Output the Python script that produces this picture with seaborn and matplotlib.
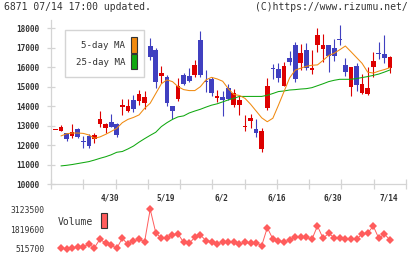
import numpy as np
import pandas as pd
import matplotlib
matplotlib.use("Agg")
import matplotlib.pyplot as plt
from matplotlib.patches import Rectangle
import seaborn as sns

# DATA (index 0 = first candle on the left)
opens = [12780, 12744, 12607, 12487, 12813, 12210, 12470, 12299, 13086, 12898,
         13172, 13069, 13977, 13754, 14319, 14285, 14182, 17093, 16887, 15569,
         15483, 14011, 14371, 15603, 15552, 15603, 17401, 15290, 15381, 14440,
         14456, 14918, 14062, 14062, 12930, 13258, 12829, 11803, 13926, 15930,
         15911, 15055, 16476, 17144, 16202, 16887, 15860, 17144, 16939, 17144,
         16990, 17420, 16117, 15004, 16065, 14696, 14627, 16031, 16720, 16682,
         15980]
highs = [12790, 13035, 12607, 13086, 12898, 12470, 12573, 12607, 13771, 13121,
         13583, 13121, 14371, 14371, 14576, 14833, 14781, 17486, 16973, 16065,
         15603, 14011, 15432, 15690, 15946, 16374, 17863, 15860, 15483, 14833,
         14781, 15141, 14884, 14525, 13549, 13600, 13326, 12864, 15432, 16168,
         16237, 16288, 16836, 17281, 17195, 17230, 16887, 18000, 17710, 17144,
         17452, 18170, 16493, 15997, 16202, 15655, 16031, 16767, 17281, 17658,
         16579]
lows = [12780, 12744, 12230, 12367, 12350, 11837, 11837, 12094, 12915, 12607,
        12950, 12436, 13549, 13720, 13720, 14062, 13840, 16374, 14918, 15175,
        14011, 13326, 14285, 15090, 15261, 15483, 15518, 14747, 14525, 14234,
        13498, 14319, 13943, 13549, 12727, 12864, 12402, 11666, 13806, 15398,
        15261, 15055, 16117, 15261, 15860, 15860, 15655, 16802, 16288, 15774,
        16339, 17144, 15552, 14542, 14799, 14627, 14576, 15483, 16408, 16202,
        15723]
closes = [12790, 12932, 12333, 12659, 12436, 12150, 11957, 12522, 13343, 13069,
          12950, 12522, 14062, 14011, 13840, 14627, 14456, 16545, 15261, 15723,
          14182, 13771, 15038, 15141, 15295, 16117, 15603, 15240, 14696, 14490,
          14319, 14371, 14696, 14319, 12970, 13412, 12607, 12727, 15038, 15890,
          15466, 16065, 16288, 15398, 16733, 15980, 15980, 17658, 17144, 16596,
          16596, 17380, 15774, 15997, 15090, 15124, 14918, 16322, 16680, 16493,
          16511]

# moving averages and volume start at index 1
ma5 = [12470, 12580, 12620, 12620, 12600, 12520, 12350, 12420, 12550, 12700,
       12860, 13150, 13320, 13420, 13550, 13890, 14150, 14650, 15150, 15350,
       15260, 15000, 14850, 14800, 14800, 15000, 15350, 15480, 15400, 15280,
       14900, 14600, 14550, 14400, 14100, 13750, 13400, 13200, 13380, 14050,
       14750, 15450, 15850, 15950, 16050, 16100, 16120, 16350, 16600, 16720,
       16900, 17090, 16800, 16500, 16200, 15750, 15700, 15800, 15880, 15980]
ma25 = [10930, 10960, 11000, 11050, 11100, 11150, 11230, 11320, 11400, 11500,
        11630, 11670, 11800, 11950, 12150, 12330, 12500, 12660, 12950, 13150,
        13320, 13450, 13500, 13650, 13750, 13840, 13950, 14050, 14120, 14220,
        14320, 14400, 14500, 14500, 14500, 14500, 14500, 14560, 14650, 14750,
        14780, 14830, 14850, 14880, 14900, 14950, 15050, 15150, 15260, 15330,
        15380, 15380, 15380, 15420, 15470, 15520, 15580, 15650, 15750, 15860]
volume = [603, 494, 603, 625, 669, 822, 603, 1173, 888, 779,
          560, 1217, 822, 1042, 1151, 998, 3123, 1589, 1217, 1261,
          1436, 1502, 954, 888, 1283, 1436, 1063, 998, 822, 998,
          954, 998, 822, 954, 888, 932, 735, 1918, 1173, 1063,
          954, 1107, 1326, 1326, 1283, 1151, 2028, 1217, 1546, 1261,
          1217, 1151, 1151, 1151, 1502, 1546, 2028, 1217, 1502, 1107]
volume = [v * 1000 for v in volume]

date_labels = ["4/30", "5/19", "6/2", "6/16", "6/30", "7/14"]
date_idx = [10, 20, 30, 40, 50, 60]
price_ticks = list(range(10000, 18001, 1000))
vol_ticks = [515700, 1819600, 3123500]

RED = "#dd0000"
BLUE = "#4040c0"
ORANGE = "#f08a10"
GREEN = "#10a810"
VOLC = "#ff5c5c"
GRID = "#d4d4d4"
TXT = "#333333"
MONO = "DejaVu Sans Mono"

sns.set_theme(style="white")
plt.rcParams["font.family"] = [MONO]

W, H = 420, 259
fig = plt.figure(figsize=(W / 100, H / 100), dpi=100)


def fx(px):
    return px / W


def fy(py):
    return 1 - py / H


X0, X1 = 51, 406
STEP, FIRST = 5.576, 55.4
xlim = ((X0 - FIRST) / STEP, (X1 - FIRST) / STEP)

# PRICE PANEL
ax = fig.add_axes([fx(X0), fy(184), (X1 - X0) / W, (184 - 20) / H])
df = pd.DataFrame({"o": opens, "h": highs, "l": lows, "c": closes})
df["x"] = np.arange(len(df))
cols = np.where(df.c >= df.o, RED, BLUE)
ax.vlines(df.x, df.l, df.h, colors=cols, linewidth=0.8, zorder=2)
body_lo = np.minimum(df.o, df.c)
body_h = np.maximum((df.c - df.o).abs(), 60)
ax.bar(df.x, body_h, bottom=body_lo, width=0.84, color=cols, linewidth=0, zorder=3)

ma = pd.DataFrame({"x": np.arange(1, len(ma5) + 1), "ma5": ma5, "ma25": ma25})
sns.lineplot(data=ma, x="x", y="ma25", ax=ax, color=GREEN, linewidth=0.75, zorder=4)
sns.lineplot(data=ma, x="x", y="ma5", ax=ax, color=ORANGE, linewidth=0.75, zorder=4)

ax.set_xlim(*xlim)
ax.set_ylim(10000, 18427)
ax.set_xlabel("")
ax.set_ylabel("")
for s in ["top", "right"]:
    ax.spines[s].set_visible(False)
for s in ["left", "bottom"]:
    ax.spines[s].set_color(GRID)
    ax.spines[s].set_linewidth(0.9)

ax.set_yticks(price_ticks)
ax.set_yticklabels([str(t) for t in price_ticks], fontsize=5.6, fontweight="bold", color=TXT)
ax.tick_params(axis="y", direction="inout", length=5.5, width=0.9, color=GRID, pad=5.5, left=True)

ax.set_xticks([i - 0.3 for i in date_idx])
ax.set_xticklabels(date_labels, fontsize=5.6, fontweight="bold", color=TXT)
ax.tick_params(axis="x", which="major", length=0, pad=6.5)
ax.set_xticks(np.linspace(xlim[0], xlim[1], 12), minor=True)
ax.tick_params(axis="x", which="minor", direction="inout", length=6.5, width=0.9, color=GRID, bottom=True)

# VOLUME PANEL
vax = fig.add_axes([fx(X0), fy(256), (X1 - X0) / W, 56 / H])
vdf = pd.DataFrame({"x": np.arange(1, len(volume) + 1), "v": volume})
sns.lineplot(data=vdf, x="x", y="v", ax=vax, color=VOLC, linewidth=0.7,
             marker="D", markersize=4.0, markeredgewidth=0, markerfacecolor=VOLC)
vax.set_xlim(*xlim)
vax.set_ylim(55870, 3734400)
vax.set_xlabel("")
vax.set_ylabel("")
for s in vax.spines.values():
    s.set_visible(False)
vax.set_xticks([])
vax.set_yticks(vol_ticks)
vax.set_yticklabels([str(t) for t in vol_ticks], fontsize=5.8, color=TXT)
vax.tick_params(axis="y", length=0, pad=4.8)
vax.patch.set_alpha(0)

# LEGENDS
fig.patches.append(Rectangle((fx(65), fy(77)), (144 - 65) / W, 47 / H, transform=fig.transFigure,
                             facecolor="white", edgecolor=GRID, linewidth=1.0, zorder=5))
fig.text(fx(125), fy(46), "5-day MA", ha="right", va="center", fontsize=6.6, color=TXT, zorder=6)
fig.text(fx(125), fy(62.5), "25-day MA", ha="right", va="center", fontsize=6.6, color=TXT, zorder=6)
fig.patches.append(Rectangle((fx(131), fy(52.7)), 6 / W, 15.4 / H, transform=fig.transFigure,
                             facecolor=ORANGE, edgecolor="#333333", linewidth=0.8, zorder=6))
fig.patches.append(Rectangle((fx(131), fy(69.3)), 6 / W, 15 / H, transform=fig.transFigure,
                             facecolor=GREEN, edgecolor="#333333", linewidth=0.8, zorder=6))

fig.text(fx(58), fy(222), "Volume", ha="left", va="center", fontsize=7.0, color=TXT)
fig.patches.append(Rectangle((fx(101), fy(228)), 6 / W, 15 / H, transform=fig.transFigure,
                             facecolor=VOLC, edgecolor="#333333", linewidth=0.8, zorder=6))

# HEADER
fig.text(fx(4), fy(7.5), "6871 07/14 17:00 updated.", ha="left", va="center", fontsize=7.0, color=TXT)
fig.text(fx(408), fy(7.5), "(C)https://www.rizumu.net/", ha="right", va="center", fontsize=7.0, color=TXT)

fig.savefig("out.png", dpi=100)
